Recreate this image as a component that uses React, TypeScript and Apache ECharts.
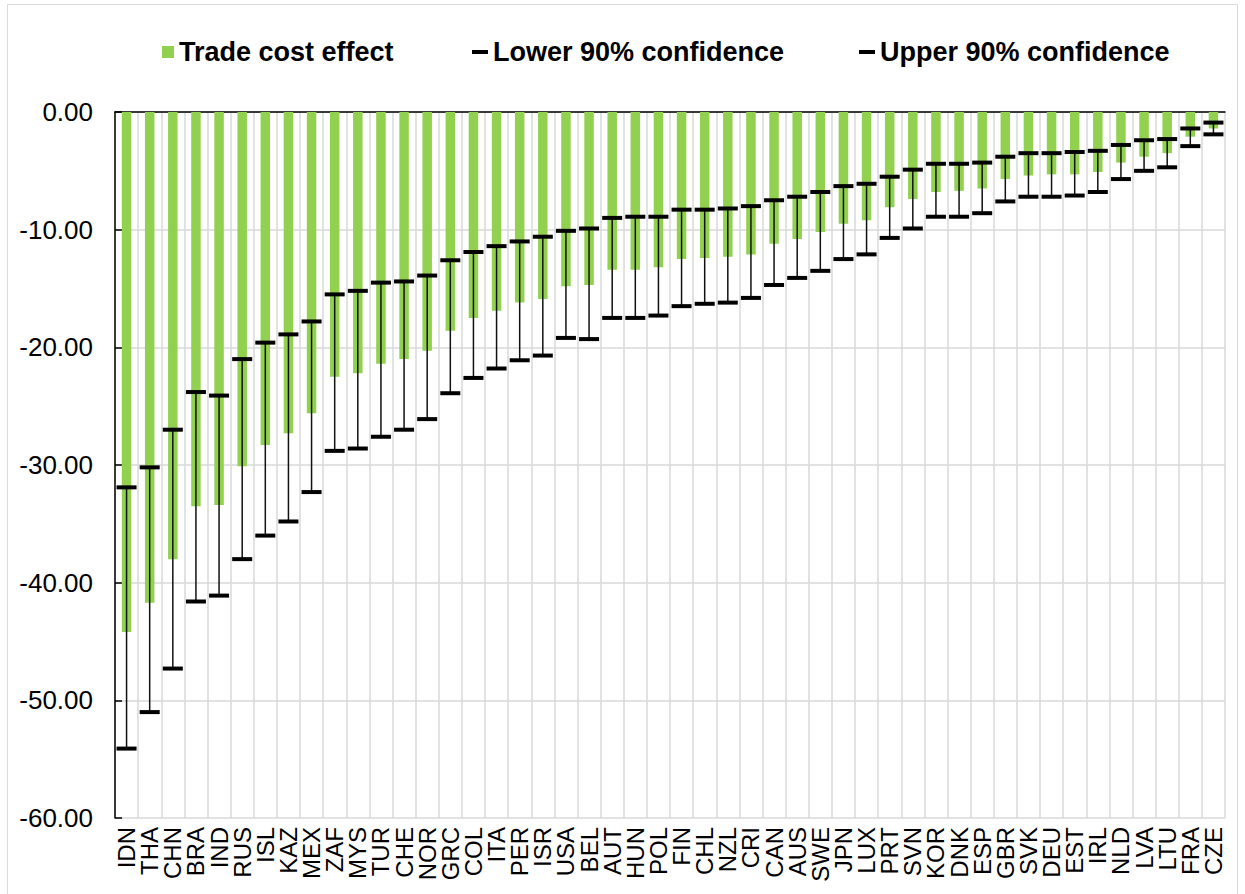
import React, { useEffect, useRef } from "react";
import * as echarts from "echarts";

const categories = [
  "IDN","THA","CHN","BRA","IND","RUS","ISL","KAZ","MEX","ZAF","MYS","TUR","CHE","NOR","GRC","COL",
  "ITA","PER","ISR","USA","BEL","AUT","HUN","POL","FIN","CHL","NZL","CRI","CAN","AUS","SWE","JPN",
  "LUX","PRT","SVN","KOR","DNK","ESP","GBR","SVK","DEU","EST","IRL","NLD","LVA","LTU","FRA","CZE",
];

const tradeCostEffect = [
  -44.2,-41.7,-38.0,-33.5,-33.4,-30.1,-28.3,-27.3,-25.6,-22.5,-22.2,-21.4,-21.0,-20.3,-18.6,-17.5,
  -16.9,-16.2,-15.9,-14.8,-14.7,-13.4,-13.4,-13.2,-12.5,-12.4,-12.3,-12.1,-11.2,-10.8,-10.2,-9.5,
  -9.2,-8.1,-7.4,-6.8,-6.7,-6.5,-5.7,-5.4,-5.3,-5.3,-5.1,-4.3,-3.8,-3.5,-2.1,-1.4,
];

const upper90 = [
  -31.9,-30.2,-27.0,-23.8,-24.1,-21.0,-19.6,-18.9,-17.8,-15.5,-15.2,-14.5,-14.4,-13.9,-12.6,-11.9,
  -11.4,-11.0,-10.6,-10.1,-9.9,-9.0,-8.9,-8.9,-8.3,-8.3,-8.2,-8.0,-7.5,-7.2,-6.8,-6.3,
  -6.1,-5.5,-4.9,-4.4,-4.4,-4.3,-3.8,-3.5,-3.5,-3.4,-3.3,-2.8,-2.4,-2.3,-1.4,-0.9,
];

const lower90 = [
  -54.1,-51.0,-47.3,-41.6,-41.1,-38.0,-36.0,-34.8,-32.3,-28.8,-28.6,-27.6,-27.0,-26.1,-23.9,-22.6,
  -21.8,-21.1,-20.7,-19.2,-19.3,-17.5,-17.5,-17.3,-16.5,-16.3,-16.2,-15.8,-14.7,-14.1,-13.5,-12.5,
  -12.1,-10.7,-9.9,-8.9,-8.9,-8.6,-7.6,-7.2,-7.2,-7.1,-6.8,-5.7,-5.0,-4.7,-2.9,-1.9,
];

const yTicks = { min: -60, max: 0, interval: 10 };

const FONT = "'Liberation Sans', Arial, sans-serif";
const CAP_W = 20;
const CAP_H = 4;

export default function App() {
  const ref = useRef<HTMLDivElement>(null);

  useEffect(() => {
    if (!ref.current) return;
    const chart = echarts.init(ref.current, undefined, { renderer: "svg" });

    const legendBase = {
      orient: "horizontal",
      padding: 0,
      selectedMode: false,
      textStyle: { fontFamily: FONT, fontSize: 27, fontWeight: "bold", color: "#000", lineHeight: 30 },
    };

    const option: any = {
      animation: false,
      backgroundColor: "#fff",
      graphic: [
        {
          type: "rect",
          shape: { x: 7.5, y: 4.5, width: 1230, height: 900 },
          style: { fill: "none", stroke: "#d9d9d9", lineWidth: 1 },
          silent: true,
          z: -10,
        },
      ],
      legend: [
        {
          ...legendBase,
          left: 162,
          top: 37,
          itemWidth: 12,
          itemHeight: 12,
          icon: "rect",
          data: ["Trade cost effect"],
        },
        {
          ...legendBase,
          left: 472,
          top: 37,
          itemWidth: 16,
          itemHeight: 4,
          icon: "rect",
          data: ["Lower 90% confidence"],
        },
        {
          ...legendBase,
          left: 859,
          top: 37,
          itemWidth: 16,
          itemHeight: 4,
          icon: "rect",
          data: ["Upper 90% confidence"],
        },
      ],
      grid: { left: 115, right: 20, top: 112, bottom: 76, containLabel: false },
      xAxis: [
        {
          type: "category",
          position: "bottom",
          data: categories,
          boundaryGap: true,
          axisLine: { show: false, onZero: false },
          axisTick: { show: false },
          axisLabel: {
            interval: 0,
            rotate: 90,
            margin: 9,
            fontFamily: FONT,
            fontSize: 24,
            color: "#000",
          },
          splitLine: { show: true, interval: 0, lineStyle: { color: "#d9d9d9", width: 1.5 } },
        },
        {
          type: "category",
          position: "top",
          data: categories,
          boundaryGap: true,
          axisLine: { show: true, onZero: false, lineStyle: { color: "#000", width: 1.5 } },
          axisTick: { show: false },
          axisLabel: { show: false },
          splitLine: { show: false },
        },
      ],
      yAxis: {
        type: "value",
        min: yTicks.min,
        max: yTicks.max,
        interval: yTicks.interval,
        axisLine: { show: true, lineStyle: { color: "#000", width: 1.5 } },
        axisTick: { show: true, inside: true, length: 7, lineStyle: { color: "#000", width: 1.5 } },
        axisLabel: {
          margin: 22,
          fontFamily: FONT,
          fontSize: 26,
          color: "#000",
          formatter: (v: number) => v.toFixed(2),
        },
        splitLine: { show: true, lineStyle: { color: "#d9d9d9", width: 1.5 } },
      },
      series: [
        {
          name: "Trade cost effect",
          type: "bar",
          xAxisIndex: 0,
          data: tradeCostEffect,
          barWidth: 9.5,
          z: 2,
          itemStyle: { color: "#92d050" },
        },
        {
          name: "Lower 90% confidence",
          type: "custom",
          xAxisIndex: 0,
          z: 5,
          itemStyle: { color: "#000" },
          encode: { x: 0, y: 1 },
          data: lower90.map((v, i) => [i, v, upper90[i]]),
          renderItem: (params: any, api: any) => {
            const i = api.value(0);
            const lo = api.coord([i, api.value(1)]);
            const up = api.coord([i, api.value(2)]);
            return {
              type: "group",
              children: [
                {
                  type: "line",
                  shape: { x1: lo[0], y1: up[1], x2: lo[0], y2: lo[1] },
                  style: { stroke: "#111", lineWidth: 1.5 },
                },
                {
                  type: "rect",
                  shape: { x: lo[0] - CAP_W / 2, y: lo[1] - CAP_H / 2, width: CAP_W, height: CAP_H },
                  style: { fill: "#000" },
                },
              ],
            };
          },
        },
        {
          name: "Upper 90% confidence",
          type: "custom",
          xAxisIndex: 0,
          z: 6,
          itemStyle: { color: "#000" },
          encode: { x: 0, y: 1 },
          data: upper90.map((v, i) => [i, v]),
          renderItem: (params: any, api: any) => {
            const i = api.value(0);
            const p = api.coord([i, api.value(1)]);
            return {
              type: "rect",
              shape: { x: p[0] - CAP_W / 2, y: p[1] - CAP_H / 2, width: CAP_W, height: CAP_H },
              style: { fill: "#000" },
            };
          },
        },
      ],
    };

    chart.setOption(option);
    return () => chart.dispose();
  }, []);

  return (
    <div
      ref={ref}
      style={{ position: "absolute", left: 0, top: 0, width: 1245, height: 894 }}
    />
  );
}
